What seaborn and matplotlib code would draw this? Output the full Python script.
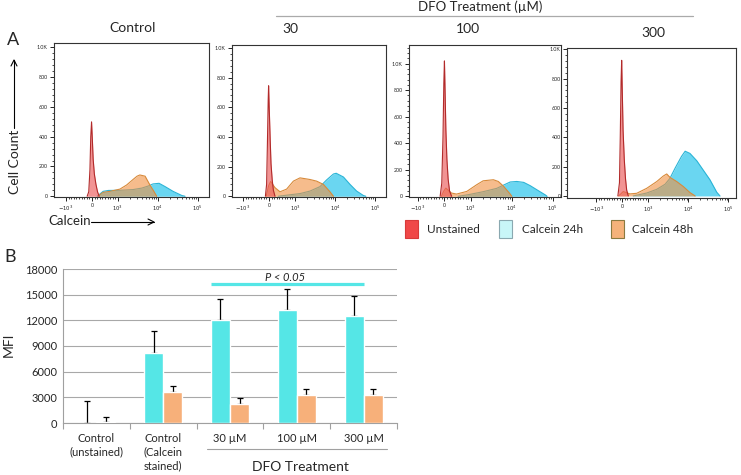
import numpy as np
import pandas as pd
import matplotlib
matplotlib.use("Agg")
import matplotlib.pyplot as plt
from matplotlib.patches import Rectangle
import seaborn as sns

sns.set_theme(style="white")
plt.rcParams['font.family'] = ['Lato', 'DejaVu Sans']

# ---------------- data: flow histograms (x in display decades, 10^3 = 0) -------------
panel_titles = ["Control", "30", "100", "300"]

red1_x = [-0.77, -0.73, -0.70, -0.68, -0.66, -0.64, -0.62, -0.59, -0.55, -0.51, -0.47]
red1_y = [0, 30, 180, 400, 500, 380, 250, 150, 80, 30, 0]
orange1_x = [-0.5, -0.37, -0.2, 0.05, 0.22, 0.38, 0.48, 0.55, 0.68, 0.8, 0.9, 0.97]
orange1_y = [0, 26, 33, 48, 76, 113, 135, 143, 135, 76, 33, 0]
blue1_x = [-0.52, -0.37, -0.24, 0.05, 0.38, 0.6, 0.75, 0.88, 1.03, 1.18, 1.38, 1.6, 1.68]
blue1_y = [0, 33, 39, 40, 45, 55, 68, 83, 87, 65, 33, 5, 0]

red2_x = [-0.74, -0.71, -0.69, -0.67, -0.66, -0.645, -0.62, -0.6, -0.57, -0.54, -0.5]
red2_y = [0, 80, 350, 650, 745, 600, 380, 220, 110, 40, 0]
orange2_x = [-0.72, -0.66, -0.61, -0.5, -0.375, -0.21, -0.04, 0.125, 0.375, 0.54, 0.71, 0.875, 0.96]
orange2_y = [0, 70, 100, 58, 30, 48, 102, 124, 113, 102, 80, 30, 0]
blue2_x = [-0.42, -0.125, 0.125, 0.375, 0.625, 0.79, 0.96, 1.03, 1.21, 1.375, 1.54, 1.71, 1.77]
blue2_y = [0, 10, 18, 35, 65, 110, 150, 155, 130, 80, 35, 5, 0]

red3_x = [-0.75, -0.71, -0.68, -0.66, -0.645, -0.63, -0.61, -0.585, -0.555, -0.52, -0.47]
red3_y = [0, 100, 450, 850, 1020, 800, 500, 280, 130, 40, 0]
orange3_x = [-0.72, -0.66, -0.61, -0.475, -0.35, -0.1, 0.14, 0.3, 0.55, 0.67, 0.8, 0.96, 1.0]
orange3_y = [0, 40, 62, 25, 17, 37, 87, 117, 125, 112, 75, 17, 0]
blue3_x = [-0.31, -0.02, 0.3, 0.63, 0.8, 0.96, 1.12, 1.29, 1.45, 1.66, 1.82, 1.86]
blue3_y = [0, 15, 35, 60, 85, 108, 112, 105, 80, 40, 10, 0]

red4_x = [-0.76, -0.72, -0.70, -0.68, -0.665, -0.65, -0.63, -0.6, -0.57, -0.54, -0.5]
red4_y = [0, 90, 400, 780, 925, 720, 450, 250, 120, 40, 0]
orange4_x = [-0.74, -0.625, -0.46, -0.29, -0.04, 0.21, 0.375, 0.46, 0.54, 0.71, 0.875, 1.04, 1.17]
orange4_y = [0, 30, 14, 18, 52, 98, 136, 150, 127, 98, 64, 23, 0]
blue4_x = [-0.375, -0.04, 0.21, 0.42, 0.54, 0.67, 0.83, 0.92, 1.04, 1.21, 1.375, 1.54, 1.71, 1.79]
blue4_y = [0, 20, 45, 80, 120, 190, 270, 305, 290, 240, 175, 110, 25, 0]

x_tick_pos = [-1.3, -0.65, 0, 1, 2]
x_tick_labels = [r"$-10^3$", "0", r"$10^3$", r"$10^4$", r"$10^5$"]
y_tick_pos = [0, 200, 400, 600, 800, 1000]
y_tick_labels = ["0", "200", "400", "600", "800", "1.0K"]

legend_labels = ["Unstained", "Calcein 24h", "Calcein 48h"]

# ---------------- data: MFI bar chart -------------
groups = ["Control\n(unstained)", "Control\n(Calcein\nstained)", "30 µM", "100 µM", "300 µM"]
mfi_24h = [50, 8200, 12000, 13200, 12500]
mfi_48h = [150, 3650, 2250, 3300, 3300]
err_24h = [2500, 2500, 2450, 2500, 2400]
err_48h = [600, 650, 700, 650, 650]
b_yticks = [0, 3000, 6000, 9000, 12000, 15000, 18000]

# ---------------- styles -------------
W, H = 741, 475
def fx(p): return p / W
def fy(p): return 1 - p / H

RED_F, RED_E = "#eb5a5a", "#b22a2a"
BLUE_F, BLUE_E = "#5ad2f0", "#2ab4d6"
ORG_F, ORG_E = "#f09040", "#d88a3a"
BAR_C, BAR_O = "#55e6e6", "#f7b07a"

fig = plt.figure(figsize=(W / 100, H / 100), dpi=100)

panels = [
    dict(rect=(54, 43, 209, 197), xlim=(-1.6, 2.28), ylim=(-5, 1030),
         red=(red1_x, red1_y), org=(orange1_x, orange1_y), blue=(blue1_x, blue1_y)),
    dict(rect=(232, 45, 386, 197), xlim=(-1.575, 2.275), ylim=(-5, 1020),
         red=(red2_x, red2_y), org=(orange2_x, orange2_y), blue=(blue2_x, blue2_y)),
    dict(rect=(409, 45, 561, 197), xlim=(-1.51, 2.2), ylim=(-5, 1140),
         red=(red3_x, red3_y), org=(orange3_x, orange3_y), blue=(blue3_x, blue3_y)),
    dict(rect=(567, 48, 736, 198), xlim=(-2.03, 2.19), ylim=(-14, 1009),
         red=(red4_x, red4_y), org=(orange4_x, orange4_y), blue=(blue4_x, blue4_y)),
]

minor_x = []
for k in (0, 1):
    for m in range(2, 10):
        minor_x.append(k + np.log10(m))
for m in range(1, 10):
    minor_x.append(-0.65 + 0.65 * m / 10)
    minor_x.append(-0.65 - 0.65 * m / 10)
minor_y = [v for v in range(0, 1200, 40)]

for p in panels:
    l, t, r, b = p["rect"]
    ax = fig.add_axes([fx(l), fy(b), fx(r - l), (b - t) / H])
    bx, by = p["blue"]
    ox, oy = p["org"]
    rx, ry = p["red"]
    ax.fill_between(bx, by, 0, color=BLUE_F, alpha=0.9, lw=0, zorder=1)
    sns.lineplot(x=bx, y=by, ax=ax, color=BLUE_E, lw=0.8, sort=False, estimator=None, zorder=2)
    ax.fill_between(ox, oy, 0, color=ORG_F, alpha=0.6, lw=0, zorder=3)
    sns.lineplot(x=ox, y=oy, ax=ax, color=ORG_E, lw=0.8, sort=False, estimator=None, zorder=4)
    ax.fill_between(rx, ry, 0, color=RED_F, alpha=0.65, lw=0, zorder=5)
    sns.lineplot(x=rx, y=ry, ax=ax, color=RED_E, lw=0.8, sort=False, estimator=None, zorder=6)
    ax.set_xlim(*p["xlim"])
    ax.set_ylim(*p["ylim"])
    ax.set_xticks(x_tick_pos)
    ax.set_xticklabels(x_tick_labels)
    ax.set_xticks(minor_x, minor=True)
    ax.set_yticks(y_tick_pos)
    ax.set_yticklabels(y_tick_labels)
    ax.set_yticks([v for v in minor_y if p["ylim"][0] <= v <= p["ylim"][1]], minor=True)
    ax.tick_params(axis="both", which="major", direction="out", length=3, width=0.6,
                   labelsize=3.8, pad=1.5, color="black", bottom=True, left=True)
    ax.tick_params(axis="both", which="minor", direction="out", length=1.5, width=0.5,
                   color="black", bottom=True, left=True)
    ax.set_xlabel("")
    ax.set_ylabel("")
    for s in ax.spines.values():
        s.set_color("#333333")
        s.set_linewidth(0.8)

# panel titles
fig.text(fx(133), fy(28), panel_titles[0], ha="center", va="center", fontsize=10)
fig.text(fx(290), fy(29), panel_titles[1], ha="center", va="center", fontsize=10)
fig.text(fx(468), fy(29), panel_titles[2], ha="center", va="center", fontsize=10)
fig.text(fx(653), fy(33), panel_titles[3], ha="center", va="center", fontsize=10)
fig.text(fx(480), fy(7), "DFO Treatment (µM)", ha="center", va="center", fontsize=9.5)
fig.add_artist(plt.Line2D([fx(276), fx(693)], [fy(16), fy(16)], color="#aaaaaa", lw=0.9))

fig.text(fx(13), fy(40), "A", ha="center", va="center", fontsize=13)
fig.text(fx(10), fy(257), "B", ha="center", va="center", fontsize=13)

fig.text(fx(15), fy(162), "Cell Count", rotation=90, ha="center", va="center", fontsize=10)
fig.add_artist(plt.Line2D([fx(14), fx(14)], [fy(128), fy(60)], color="black", lw=0.8))
fig.add_artist(plt.Line2D([fx(11), fx(14), fx(17)], [fy(66), fy(60), fy(66)], color="black", lw=0.8))
fig.text(fx(48), fy(221), "Calcein", ha="left", va="center", fontsize=9.5)
fig.add_artist(plt.Line2D([fx(91), fx(154)], [fy(222), fy(222)], color="black", lw=0.8))
fig.add_artist(plt.Line2D([fx(148), fx(154), fx(148)], [fy(219), fy(222), fy(225)], color="black", lw=0.8))

# legend
leg_items = [(405, "#f04848", "#d83a3a", legend_labels[0], 427),
             (499, "#c8f6f8", "#8aa8b0", legend_labels[1], 522),
             (611, "#f5b27a", "#8a7a40", legend_labels[2], 632)]
for sx, fc, ec, lab, tx in leg_items:
    fig.add_artist(Rectangle((fx(sx), fy(238)), 13 / W, 18 / H, transform=fig.transFigure,
                             facecolor=fc, edgecolor=ec, lw=0.8))
    fig.text(fx(tx), fy(229), lab, ha="left", va="center", fontsize=8.5)

# ---------------- bar chart -------------
axB = fig.add_axes([fx(63), fy(423), fx(397 - 63), (423 - 269) / H])
df = pd.DataFrame({
    "group": groups * 2,
    "series": ["24h"] * len(groups) + ["48h"] * len(groups),
    "value": mfi_24h + mfi_48h,
})
sns.barplot(data=df, x="group", y="value", hue="series", palette=[BAR_C, BAR_O],
            width=0.57, errorbar=None, ax=axB, legend=False, saturation=1, zorder=3)

bars = axB.patches
ncat = len(groups)
errs = err_24h + err_48h
for i, bar in enumerate(bars[:2 * ncat]):
    xc = bar.get_x() + bar.get_width() / 2
    top = bar.get_height()
    axB.errorbar([xc], [top], yerr=[[0], [errs[i]]], fmt="none", ecolor="black",
                 elinewidth=0.9, capsize=2.5, capthick=0.9, zorder=2)

axB.set_ylim(0, 18000)
axB.set_xlim(-0.5, ncat - 0.5)
axB.set_yticks(b_yticks)
axB.set_yticklabels([str(v) for v in b_yticks])
axB.yaxis.grid(True, color="#a8a8a8", lw=0.8, zorder=0)
axB.set_axisbelow(True)
axB.set_xlabel("")
axB.set_ylabel("")
for s in ["top", "right"]:
    axB.spines[s].set_visible(False)
axB.spines["left"].set_color("#a0a0a0")
axB.spines["bottom"].set_color("#a0a0a0")
axB.spines["left"].set_linewidth(0.8)
axB.spines["bottom"].set_linewidth(0.8)
axB.tick_params(axis="y", length=0, labelsize=8, pad=4)
axB.tick_params(axis="x", which="major", length=0, labelsize=8, pad=7)
axB.set_xticks(np.arange(-0.5, ncat, 1.0), minor=True)
axB.tick_params(axis="x", which="minor", length=4, width=0.8, color="#a0a0a0", bottom=True, direction="out")
for lab in axB.get_xticklabels():
    lab.set_linespacing(1.3)

# significance bar
b30 = bars[2]
b300 = bars[4]
axB.plot([b30.get_x(), b300.get_x() + b300.get_width()], [16200, 16200], color=BAR_C, lw=2.3,
         solid_capstyle="butt", zorder=4)
axB.text(2.83, 17000, "P < 0.05", ha="center", va="center", fontsize=8, style="italic")

fig.add_artist(plt.Line2D([fx(207), fx(387)], [fy(449), fy(449)], color="#a0a0a0", lw=0.8))
fig.text(fx(300), fy(467), "DFO Treatment", ha="center", va="center", fontsize=10)
fig.text(fx(9), fy(345), "MFI", rotation=90, ha="center", va="center", fontsize=10)

fig.savefig("out.png", dpi=100)
